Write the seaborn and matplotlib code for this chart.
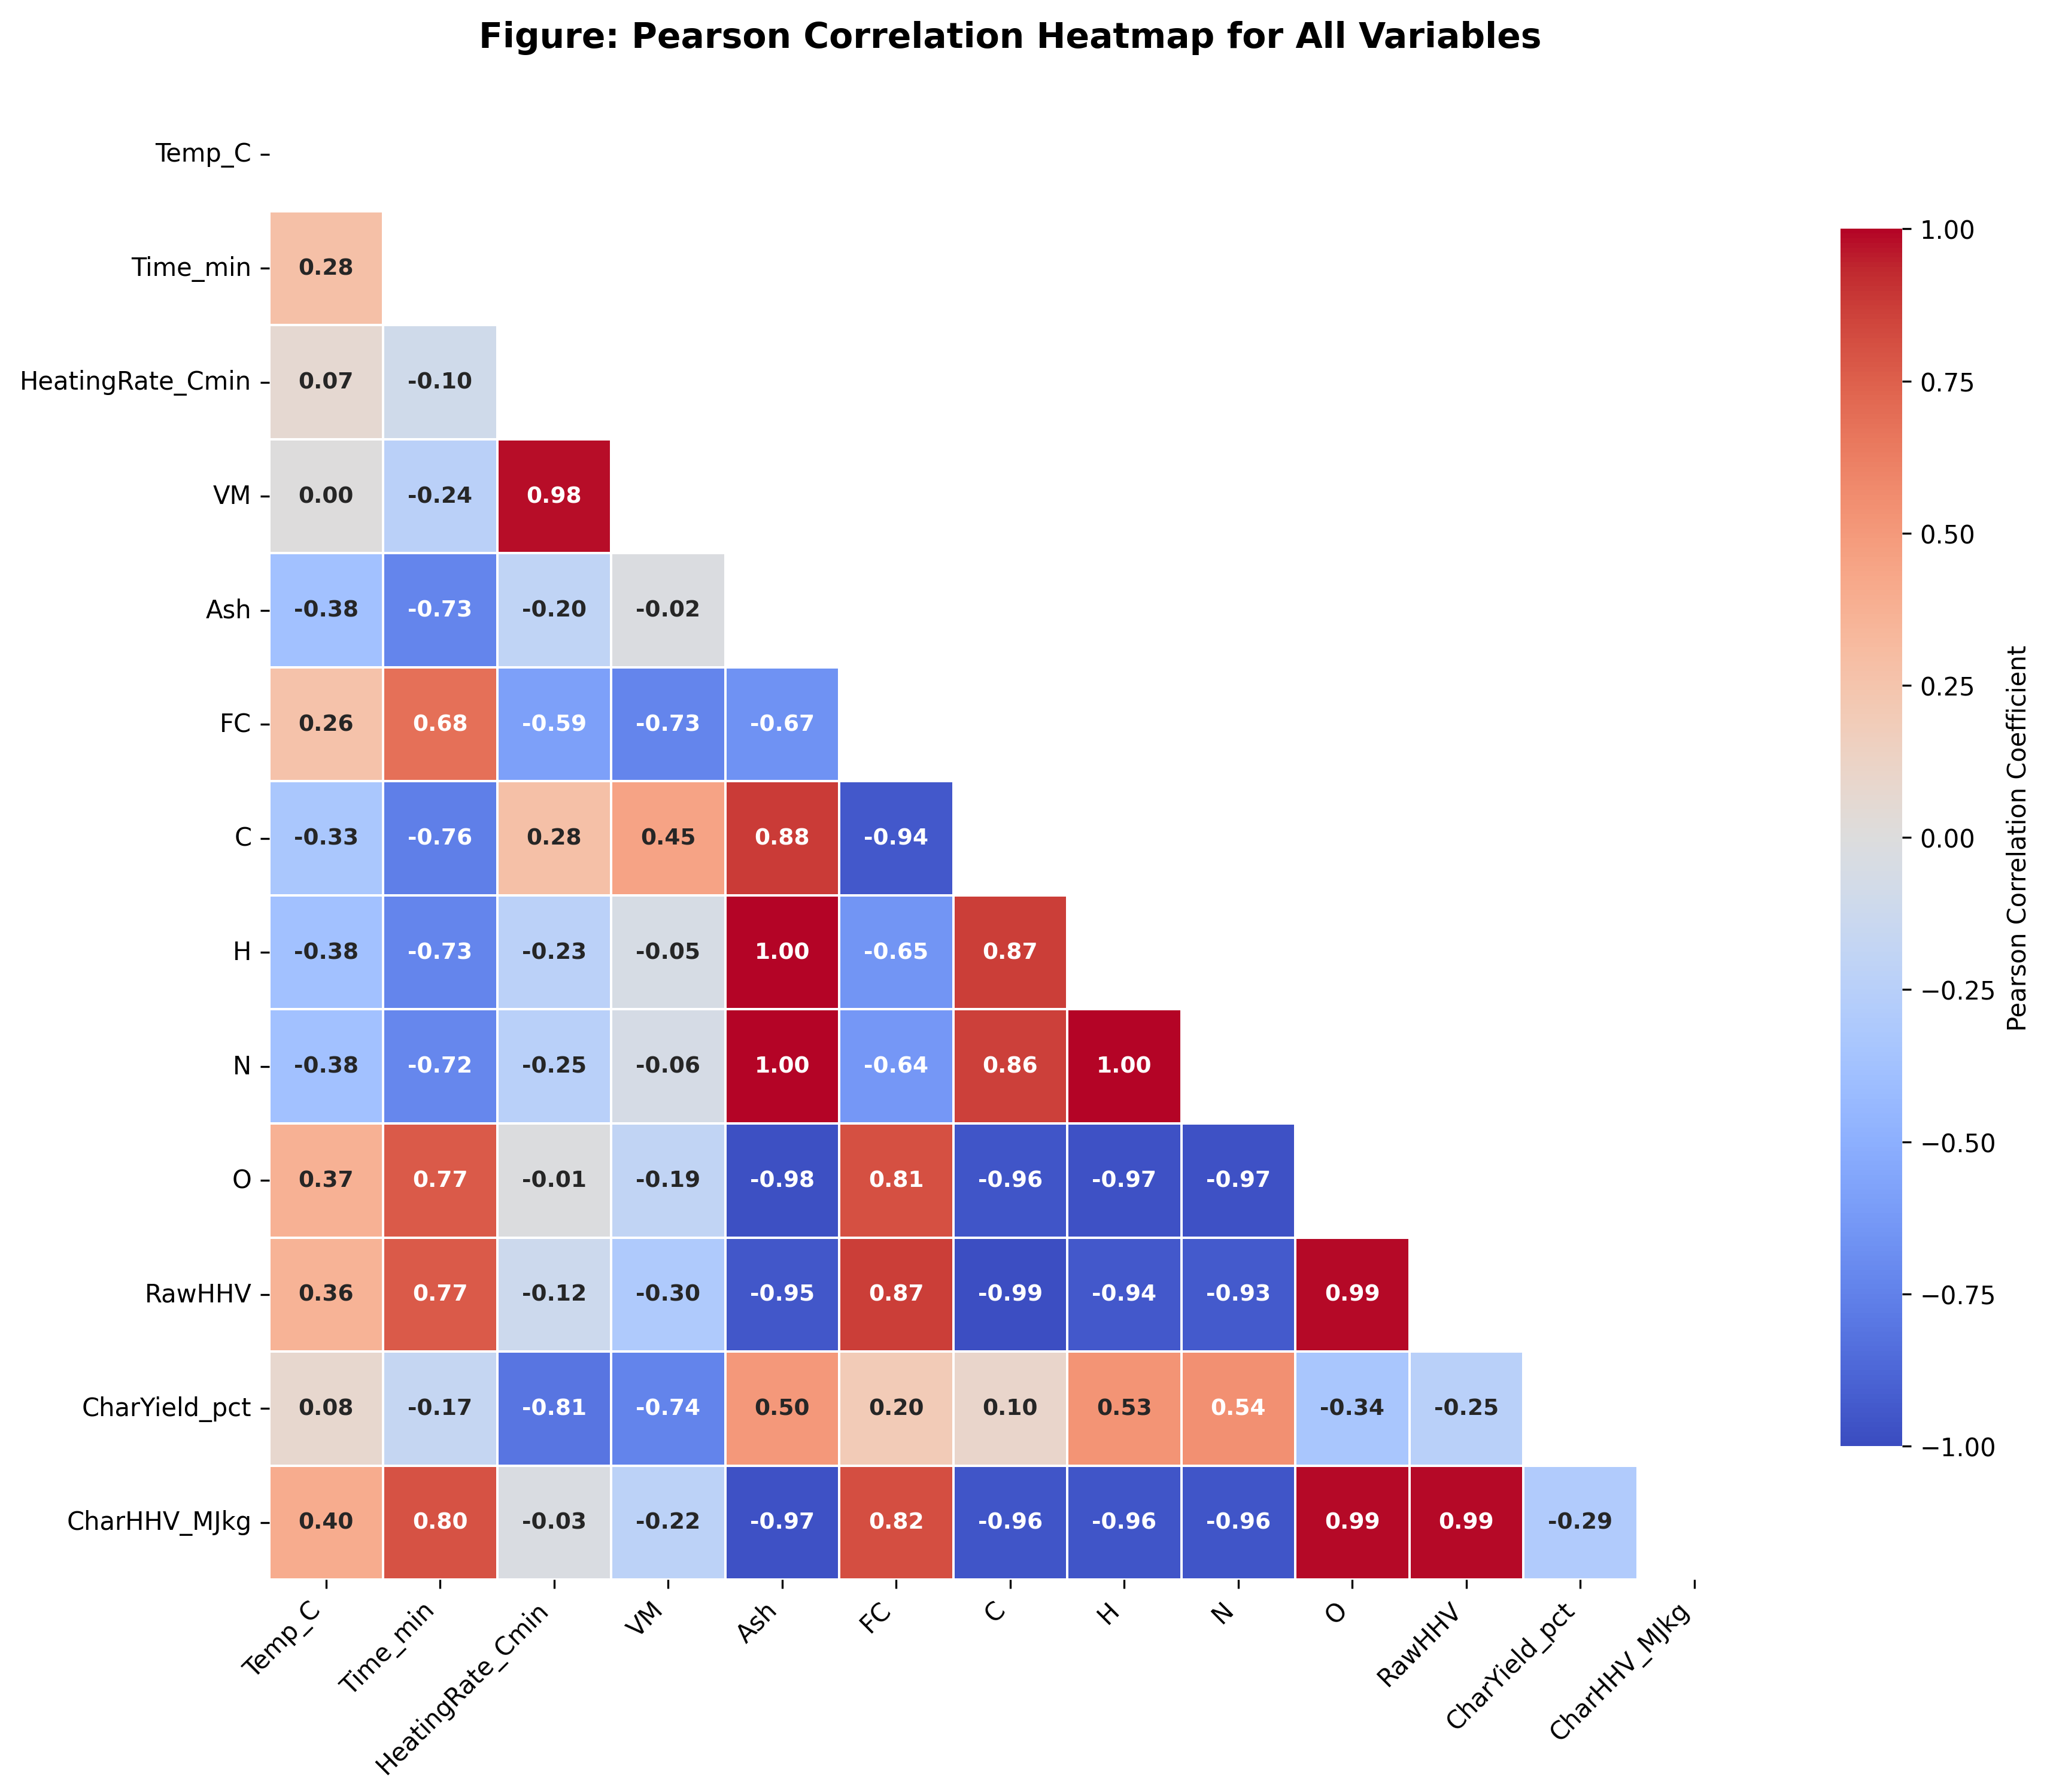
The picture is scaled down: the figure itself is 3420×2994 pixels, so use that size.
import numpy as np
import pandas as pd
import matplotlib
matplotlib.use("Agg")
import matplotlib.pyplot as plt
import seaborn as sns

variables = ["Temp_C", "Time_min", "HeatingRate_Cmin", "VM", "Ash", "FC", "C",
             "H", "N", "O", "RawHHV", "CharYield_pct", "CharHHV_MJkg"]

# lower-triangle correlation values, row by row
row_Time_min = [0.28]
row_HeatingRate = [0.07, -0.10]
row_VM = [0.00, -0.24, 0.98]
row_Ash = [-0.38, -0.73, -0.20, -0.02]
row_FC = [0.26, 0.68, -0.59, -0.73, -0.67]
row_C = [-0.33, -0.76, 0.28, 0.45, 0.88, -0.94]
row_H = [-0.38, -0.73, -0.23, -0.05, 1.00, -0.65, 0.87]
row_N = [-0.38, -0.72, -0.25, -0.06, 1.00, -0.64, 0.86, 1.00]
row_O = [0.37, 0.77, -0.01, -0.19, -0.98, 0.81, -0.96, -0.97, -0.97]
row_RawHHV = [0.36, 0.77, -0.12, -0.30, -0.95, 0.87, -0.99, -0.94, -0.93, 0.99]
row_CharYield = [0.08, -0.17, -0.81, -0.74, 0.50, 0.20, 0.10, 0.53, 0.54, -0.34, -0.25]
row_CharHHV = [0.40, 0.80, -0.03, -0.22, -0.97, 0.82, -0.96, -0.96, -0.96, 0.99, 0.99, -0.29]

rows = [[], row_Time_min, row_HeatingRate, row_VM, row_Ash, row_FC, row_C, row_H,
        row_N, row_O, row_RawHHV, row_CharYield, row_CharHHV]

n = len(variables)
mat = np.eye(n)
for i, r in enumerate(rows):
    for j, v in enumerate(r):
        mat[i, j] = v
        mat[j, i] = v
corr = pd.DataFrame(mat, index=variables, columns=variables)
mask = np.triu(np.ones_like(mat, dtype=bool))

plt.rcParams['font.family'] = ['DejaVu Sans']

fig = plt.figure(figsize=(11.403, 9.983), dpi=300)
ax = fig.add_axes([0.1314, 0.117, 0.724, 0.830])
cax = fig.add_axes([0.899, 0.193, 0.030, 0.679])

sns.heatmap(corr, mask=mask, cmap="coolwarm", vmin=-1, vmax=1, center=0,
            annot=True, fmt=".2f", annot_kws={"size": 9, "weight": "bold"},
            linewidths=0.5, linecolor="white", square=True, ax=ax, cbar_ax=cax,
            cbar_kws={"label": "Pearson Correlation Coefficient"})

ax.set_xticklabels(ax.get_xticklabels(), rotation=45, ha="right", fontsize=10)
ax.set_yticklabels(ax.get_yticklabels(), rotation=0, fontsize=10)
cax.tick_params(labelsize=10)
cax.yaxis.label.set_size(10)

ax.set_title("Figure: Pearson Correlation Heatmap for All Variables",
             fontsize=14, fontweight="bold", pad=20)

fig.savefig("out.png", dpi=300)
